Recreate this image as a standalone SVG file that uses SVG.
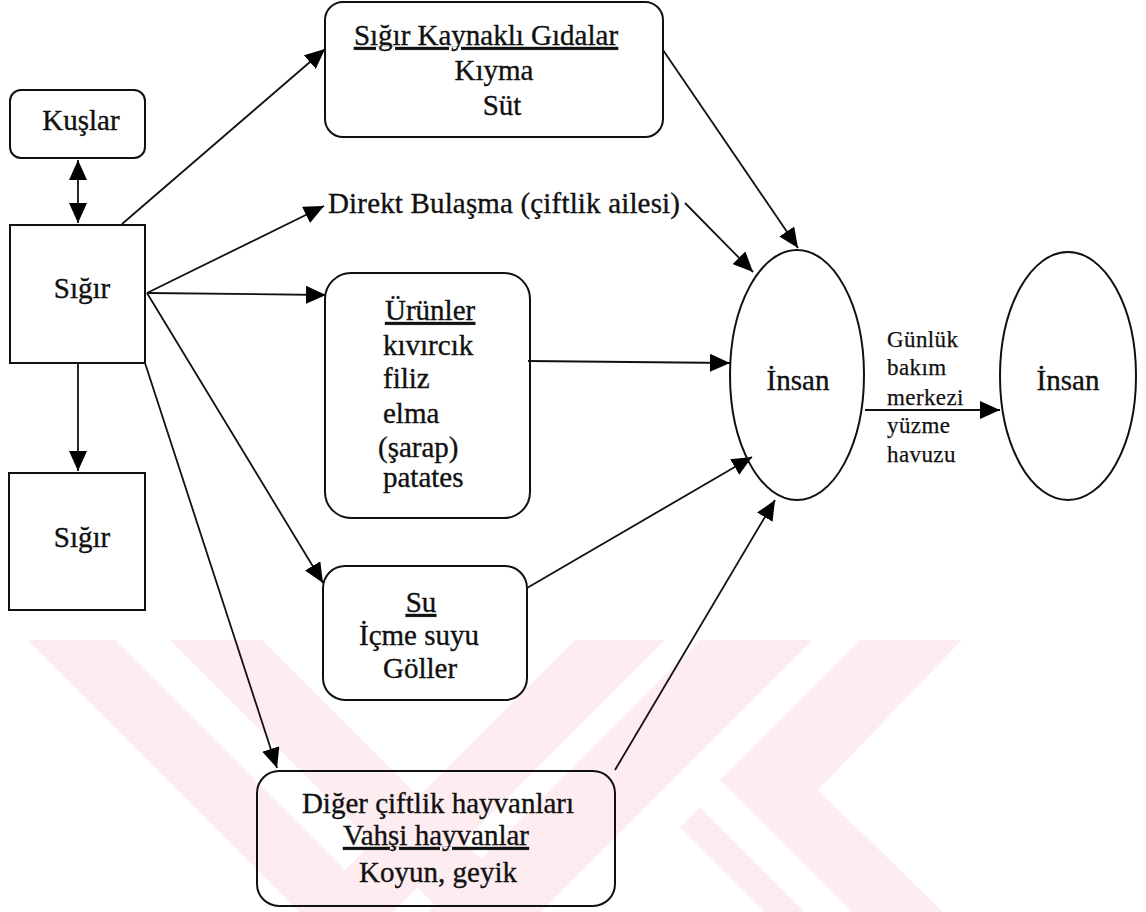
<svg xmlns="http://www.w3.org/2000/svg" width="1146" height="912" viewBox="0 0 1146 912">
<defs>
<marker id="ah" markerUnits="userSpaceOnUse" markerWidth="21" markerHeight="18" refX="20" refY="9" orient="auto">
<path d="M0,0 L20,9 L0,18 z" fill="#000"/>
</marker>
<marker id="ahs" markerUnits="userSpaceOnUse" markerWidth="21" markerHeight="18" refX="1" refY="9" orient="auto">
<path d="M21,0 L1,9 L21,18 z" fill="#000"/>
</marker>
<clipPath id="wm"><rect x="0" y="640" width="1146" height="272"/></clipPath>
</defs>
<style>
.t{font-family:"Liberation Serif","Times New Roman",serif;font-size:29px;fill:#111;stroke:#111;stroke-width:0.35}
.s{font-family:"Liberation Serif","Times New Roman",serif;font-size:23px;fill:#111;stroke:#111;stroke-width:0.25;letter-spacing:0.4px}
.m{text-anchor:middle}
.u{text-decoration:underline}
.box{fill:none;stroke:#111;stroke-width:2}
.ln{fill:none;stroke:#111;stroke-width:1.8}
.wmk{fill:#fdedf0}
</style>
<rect width="1146" height="912" fill="#fff"/>
<g id="watermark" clip-path="url(#wm)">
<polygon class="wmk" points="27,640 115,640 387,912 299,912"/>
<polygon class="wmk" points="170,640 262,640 534,912 442,912"/>
<polygon class="wmk" points="575,640 665,640 393,912 303,912"/>
<polygon class="wmk" points="700,640 813,640 541,912 428,912"/>
<polygon class="wmk" points="860,640 962,640 818,790 943,912 852,912 720,780"/>
<polygon class="wmk" points="805,912 700,807 680,827 765,912"/>
</g>
<g id="connectors">
<line class="ln" x1="78" y1="160" x2="78" y2="223" marker-start="url(#ahs)" marker-end="url(#ah)"/>
<line class="ln" x1="78" y1="363" x2="78" y2="471" marker-end="url(#ah)"/>
<line class="ln" x1="122" y1="224" x2="325" y2="49" marker-end="url(#ah)"/>
<line class="ln" x1="147" y1="293" x2="324" y2="206" marker-end="url(#ah)"/>
<line class="ln" x1="147" y1="293" x2="326" y2="295" marker-end="url(#ah)"/>
<line class="ln" x1="147" y1="293" x2="323" y2="583" marker-end="url(#ah)"/>
<line class="ln" x1="145" y1="363" x2="277" y2="768" marker-end="url(#ah)"/>
<line class="ln" x1="663" y1="50" x2="798" y2="248" marker-end="url(#ah)"/>
<line class="ln" x1="685" y1="203" x2="753" y2="272" marker-end="url(#ah)"/>
<line class="ln" x1="528" y1="361" x2="730" y2="363" marker-end="url(#ah)"/>
<line class="ln" x1="527" y1="588" x2="752" y2="457" marker-end="url(#ah)"/>
<line class="ln" x1="615" y1="770" x2="775" y2="500" marker-end="url(#ah)"/>
<line class="ln" x1="865" y1="410" x2="1000" y2="410" marker-end="url(#ah)"/>
<text class="s" x="887" y="347">Günlük</text>
<text class="s" x="887" y="375">bakım</text>
<text class="s" x="887" y="405">merkezi</text>
<text class="s" x="887" y="433">yüzme</text>
<text class="s" x="887" y="462">havuzu</text>
</g>
<g id="kuslar">
<rect class="box" x="10" y="90" width="135" height="68" rx="11"/>
<text class="t m" x="81" y="130">Kuşlar</text>
</g>
<g id="sigir1">
<rect class="box" x="10" y="225" width="135" height="138"/>
<text class="t m" x="82" y="298">Sığır</text>
</g>
<g id="sigir2">
<rect class="box" x="9" y="473" width="136" height="137"/>
<text class="t m" x="82" y="547">Sığır</text>
</g>
<g id="gidalar">
<rect class="box" x="325" y="2" width="338" height="135" rx="18"/>
<text class="t m u" x="486" y="45">Sığır Kaynaklı Gıdalar</text>
<text class="t m" x="494" y="80">Kıyma</text>
<text class="t m" x="502" y="115">Süt</text>
</g>
<g id="direkt">
<text class="t" x="328" y="213" textLength="352">Direkt Bulaşma (çiftlik ailesi)</text>
</g>
<g id="urunler">
<rect class="box" x="325" y="273" width="205" height="245" rx="26"/>
<text class="t u" x="385" y="320">Ürünler</text>
<text class="t" x="383" y="355">kıvırcık</text>
<text class="t" x="383" y="388">filiz</text>
<text class="t" x="383" y="423">elma</text>
<text class="t" x="378" y="457">(şarap)</text>
<text class="t" x="383" y="487">patates</text>
</g>
<g id="su">
<rect class="box" x="323" y="566" width="204" height="134" rx="22"/>
<text class="t m u" x="421" y="612">Su</text>
<text class="t m" x="419" y="645">İçme suyu</text>
<text class="t m" x="420" y="678">Göller</text>
</g>
<g id="diger">
<rect class="box" x="257" y="771" width="358" height="135" rx="22"/>
<text class="t m" x="438" y="813">Diğer çiftlik hayvanları</text>
<text class="t m u" x="436" y="845">Vahşi hayvanlar</text>
<text class="t m" x="438" y="882">Koyun, geyik</text>
</g>
<g id="insan1">
<ellipse class="box" cx="797" cy="375" rx="67" ry="125"/>
<text class="t m" x="798" y="390">İnsan</text>
</g>
<g id="insan2">
<ellipse class="box" cx="1068" cy="376" rx="68" ry="124"/>
<text class="t m" x="1068" y="390">İnsan</text>
</g>
</svg>
